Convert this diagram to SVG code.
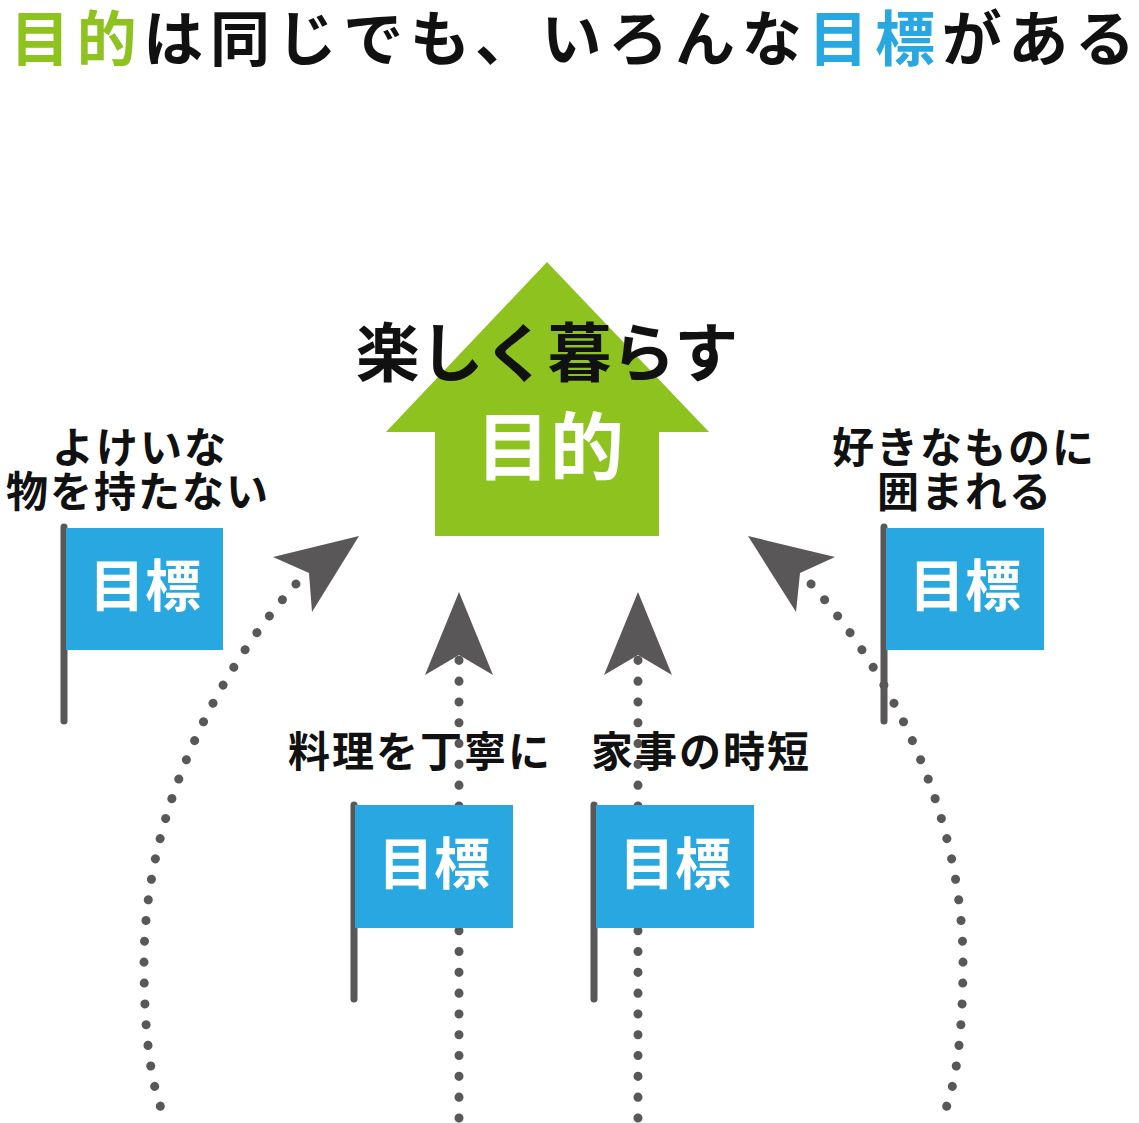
<svg xmlns="http://www.w3.org/2000/svg" width="1139" height="1123" viewBox="0 0 1139 1123">
<style>
.jp{font-family:"Noto Sans CJK JP","Noto Sans CJK SC",sans-serif;font-weight:700}
.lbl{font-size:42px;fill:#111;text-anchor:middle;letter-spacing:2px}
.flagtxt{font-size:56px;fill:#fff;text-anchor:middle}
.pole{stroke:#595757;stroke-width:7;stroke-linecap:round;fill:none}
.flag{fill:#29a7e1}
.dots{fill:none;stroke:#595757;stroke-width:9;stroke-linecap:round;stroke-dasharray:0.1 20.7}
.head{fill:#595757}
</style>
<rect width="1139" height="1123" fill="#fff"/>
<text class="jp" x="10" y="61" font-size="60" textLength="1125" lengthAdjust="spacing"><tspan fill="#8dc21f">目的</tspan><tspan fill="#111">は同じでも、いろんな</tspan><tspan fill="#29a7e1">目標</tspan><tspan fill="#111">がある</tspan></text>
<g id="connectors">
<path class="dots" d="M296,584 C210,680 145,820 144,960 C144,1040 152,1090 165,1118"/>
<path class="dots" transform="translate(1107,0) scale(-1,1)" d="M296,584 C210,680 145,820 144,960 C144,1040 152,1090 165,1118"/>
<path class="dots" d="M459,1118 V660"/>
<path class="dots" d="M638,1118 V660"/>
<polygon class="head" points="359,536 273,557 309,573 312,612"/>
<polygon class="head" points="748,536 835,557 800,573 796,612"/>
<polygon class="head" points="459,592 493,675 459,655 425,675"/>
<polygon class="head" points="638,592 672,675 638,655 604,675"/>
</g>
<g id="goal">
<polygon fill="#8dc21f" points="547,262 709,432 659,432 659,536 435,536 435,432 386,432"/>
<text class="jp" x="547" y="376" font-size="64" fill="#111" text-anchor="middle">楽しく暮らす</text>
<text class="jp" x="550" y="474" font-size="74" fill="#fff" text-anchor="middle">目的</text>
</g>
<g id="flag-left">
<line class="pole" x1="64" y1="527" x2="64" y2="721"/>
<rect class="flag" x="66" y="528" width="157" height="122"/>
<text class="jp flagtxt" x="145" y="606">目標</text>
<text class="jp lbl" x="140" y="463">よけいな</text>
<text class="jp lbl" x="138" y="507">物を持たない</text>
</g>
<g id="flag-right">
<line class="pole" x1="884" y1="527" x2="884" y2="721"/>
<rect class="flag" x="886" y="528" width="158" height="122"/>
<text class="jp flagtxt" x="965" y="606">目標</text>
<text class="jp lbl" x="964" y="463">好きなものに</text>
<text class="jp lbl" x="965" y="507">囲まれる</text>
</g>
<g id="flag-cook">
<line class="pole" x1="354" y1="805" x2="354" y2="999"/>
<rect class="flag" x="355" y="805" width="158" height="123"/>
<text class="jp flagtxt" x="434" y="884">目標</text>
<text class="jp lbl" x="420" y="767">料理を丁寧に</text>
</g>
<g id="flag-chores">
<line class="pole" x1="594" y1="805" x2="594" y2="999"/>
<rect class="flag" x="596" y="805" width="158" height="123"/>
<text class="jp flagtxt" x="675" y="884">目標</text>
<text class="jp lbl" x="701" y="767">家事の時短</text>
</g>
</svg>
